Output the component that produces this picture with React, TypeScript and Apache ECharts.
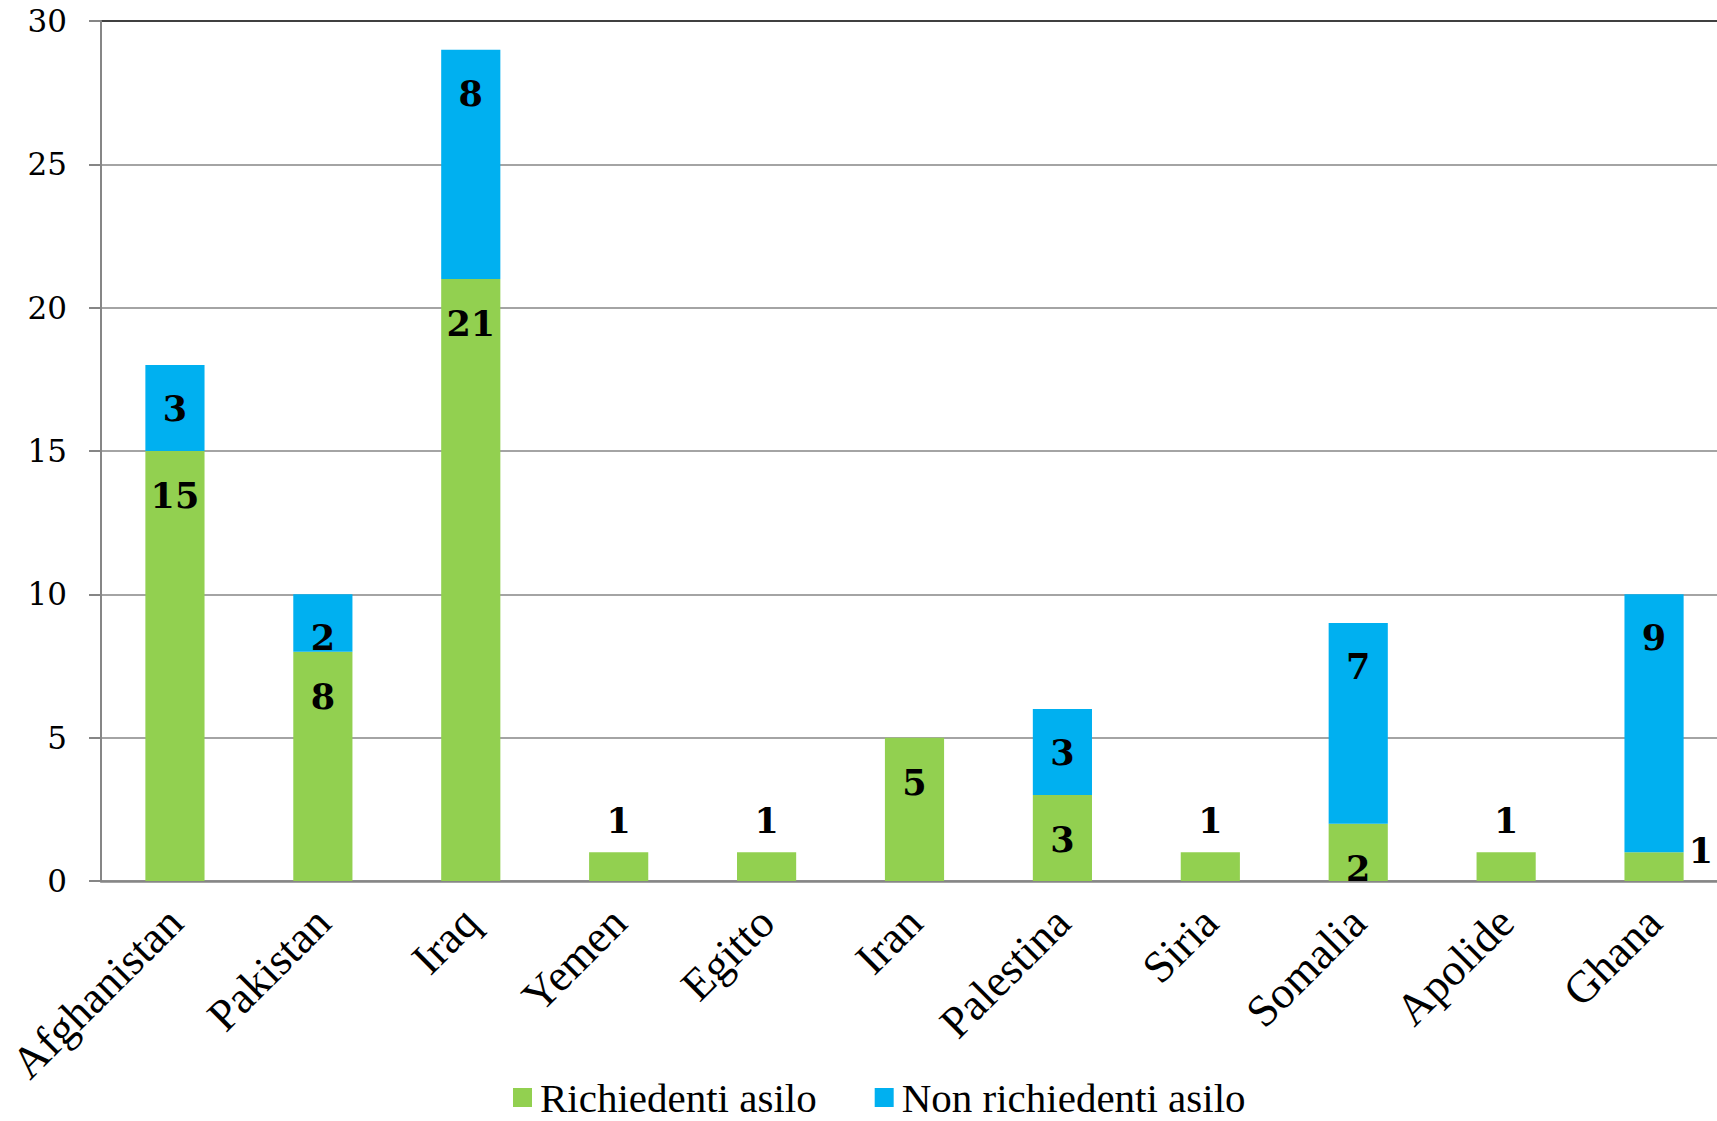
import React, { useEffect, useRef } from "react";
import * as echarts from "echarts";

// Countries of origin
const categories = [
  "Afghanistan",
  "Pakistan",
  "Iraq",
  "Yemen",
  "Egitto",
  "Iran",
  "Palestina",
  "Siria",
  "Somalia",
  "Apolide",
  "Ghana",
];

// Asylum seekers per country
const richiedenti = [15, 8, 21, 1, 1, 5, 3, 1, 2, 1, 1];
// Non asylum seekers per country
const nonRichiedenti = [3, 2, 8, 0, 0, 0, 3, 0, 7, 0, 9];

const seriesNames = ["Richiedenti asilo", "Non richiedenti asilo"];
const yTicks = { min: 0, max: 30, interval: 5 };

const GREEN = "#92D050";
const BLUE = "#00B0F0";
const AXIS_GRAY = "#868686";

const labelFont = {
  fontFamily: "DejaVu Serif",
  fontWeight: "bold" as const,
  fontSize: 35,
  color: "#000",
};

export default function App() {
  const ref = useRef<HTMLDivElement>(null);

  useEffect(() => {
    document.body.style.margin = "0";
    if (!ref.current) return;
    const chart = echarts.init(ref.current, undefined, { renderer: "svg" });

    // Green segments: labels inside near the top; a lone unit sits above
    // the bar, or beside it when another segment is stacked on top.
    const greenData = richiedenti.map((v, i) => {
      let label: any = { position: "insideTop", distance: 27 };
      if (v === 1 && nonRichiedenti[i] === 0) {
        label = { position: "top", distance: 14 };
      } else if (v === 1) {
        label = { position: "right", distance: 5, offset: [0, -16] };
      }
      return { value: v, label };
    });

    const blueData = nonRichiedenti.map((v) => ({
      value: v,
      label: { show: v > 0, position: "insideTop", distance: 26 },
    }));

    // Seven horizontal rules (0..30); the topmost one is drawn in black.
    const lineCount = (yTicks.max - yTicks.min) / yTicks.interval + 1;
    const splitColors: string[] = [];
    for (let i = 0; i < lineCount; i++) {
      splitColors.push(i === lineCount - 1 ? "#000" : AXIS_GRAY);
    }

    chart.setOption({
      animation: false,
      backgroundColor: "#fff",
      grid: {
        left: 101,
        top: 21,
        right: -11,
        bottom: 240,
        containLabel: false,
        outerBoundsMode: "none",
      },
      legend: {
        data: seriesNames,
        left: 513,
        top: 1077,
        padding: 0,
        icon: "rect",
        itemWidth: 19,
        itemHeight: 19,
        itemGap: 58,
        textStyle: {
          fontFamily: "Liberation Serif",
          fontSize: 41,
          lineHeight: 40,
          color: "#000",
          padding: [0, 0, 0, 3],
        },
      },
      xAxis: {
        type: "category",
        data: categories,
        axisLine: { lineStyle: { color: AXIS_GRAY, width: 2.5 } },
        axisTick: { length: 13, lineStyle: { color: AXIS_GRAY, width: 2 } },
        axisLabel: {
          rotate: 45,
          margin: 34,
          interval: 0,
          fontFamily: "Liberation Serif",
          fontSize: 45,
          color: "#000",
        },
      },
      yAxis: {
        type: "value",
        min: yTicks.min,
        max: yTicks.max,
        interval: yTicks.interval,
        axisLine: { show: true, lineStyle: { color: AXIS_GRAY, width: 2 } },
        axisTick: { show: true, length: 12, lineStyle: { color: AXIS_GRAY, width: 2 } },
        axisLabel: {
          margin: 34,
          fontFamily: "DejaVu Serif",
          fontSize: 31,
          color: "#000",
        },
        splitLine: {
          show: true,
          lineStyle: { color: splitColors, width: 1.6 },
        },
      },
      series: [
        {
          name: seriesNames[0],
          type: "bar",
          stack: "total",
          barWidth: "40%",
          itemStyle: { color: GREEN },
          label: { show: true, ...labelFont },
          data: greenData,
        },
        {
          name: seriesNames[1],
          type: "bar",
          stack: "total",
          barWidth: "40%",
          itemStyle: { color: BLUE },
          label: { show: true, ...labelFont },
          data: blueData,
        },
      ],
    });

    return () => chart.dispose();
  }, []);

  return (
    <div
      ref={ref}
      style={{ position: "absolute", left: 0, top: 0, width: 1717, height: 1121 }}
    />
  );
}
